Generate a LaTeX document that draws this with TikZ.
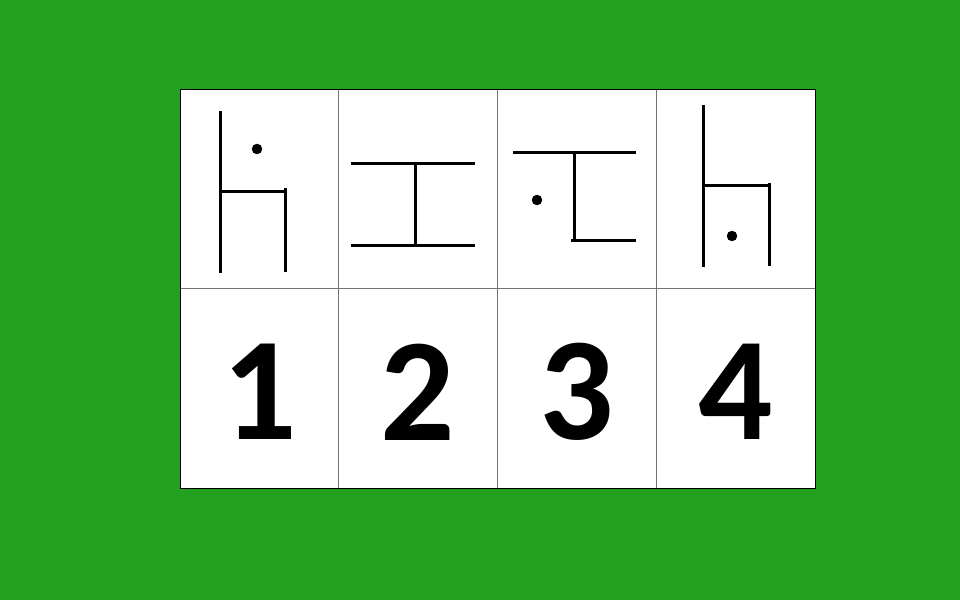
\documentclass[tikz,border=0pt]{standalone}
\usepackage{fontspec}
\setmainfont{Carlito}
\usepackage{tikz}
\usetikzlibrary{calc}
\usepackage{xcolor}
\definecolor{boardgreen}{RGB}{36,160,32}
\definecolor{gridgray}{rgb}{0.45,0.45,0.45}
\tikzset{
  cell/.style={draw=gridgray, line width=0.8pt, fill=white,
    minimum width=158.75pt, minimum height=199.5pt,
    inner sep=0pt, outer sep=0pt},
  digit/.style={font=\fontsize{147}{150}\selectfont\bfseries},
  glyph/.style={black, line width=3pt},
  spot/.style={black, fill=black}
}

\begin{document}
\begin{tikzpicture}[x=1pt,y=-1pt]

%%%%%%%%%%%%%%%%%%%%%%%%%%%%%%%%%%%%%%%%%%%%%%%%%%%%%%%%%%%%%% Setup
\fill[boardgreen] (0,0) rectangle (960,600);
\useasboundingbox (0,0) rectangle (960,600);
\coordinate (C) at (180,89);

%%%%%%%%%%%%%%%%%%%%%%%%%%%%%%%%%%%%%%%%%%%%%%%%%%%%%%%%%%%%%% Cells
\foreach \i in {1,...,4}{
  \node[cell] (t\i) at ($(C)+(158.75*\i-79.375, 99.75)$) {};
  \node[cell] (b\i) at ($(C)+(158.75*\i-79.375, 299.25)$) {};
  \node[digit] (d\i) at ($(b\i)+(0,4)$) {\i};
}
\draw[black, line width=0.8pt] (C) rectangle ($(C)+(635,399)$);

%%%%%%%%%%%%%%%%%%%%%%%%%%%%%%%%%%%%%%%%%%%%%%%%%%%%%%%%%%%%%% Glyph-1
\draw[glyph] ($(C)+(40, 22)$) -- ($(C)+(40, 184)$);
\draw[glyph] ($(C)+(40, 102)$) -- ($(C)+(106, 102)$);
\draw[glyph] ($(C)+(105, 99)$) -- ($(C)+(105, 183)$);
\draw[spot] ($(C)+(77, 60)$) circle (5pt);

%%%%%%%%%%%%%%%%%%%%%%%%%%%%%%%%%%%%%%%%%%%%%%%%%%%%%%%%%%%%%% Glyph-2
\draw[glyph] ($(C)+(171, 74)$) -- ($(C)+(295, 74)$);
\draw[glyph] ($(C)+(171, 156)$) -- ($(C)+(295, 156)$);
\draw[glyph] ($(C)+(235, 74)$) -- ($(C)+(235, 156)$);

%%%%%%%%%%%%%%%%%%%%%%%%%%%%%%%%%%%%%%%%%%%%%%%%%%%%%%%%%%%%%% Glyph-3
\draw[glyph] ($(C)+(333, 63)$) -- ($(C)+(456, 63)$);
\draw[glyph] ($(C)+(394, 63)$) -- ($(C)+(394, 151)$);
\draw[glyph] ($(C)+(391, 151)$) -- ($(C)+(456, 151)$);
\draw[spot] ($(C)+(357, 111)$) circle (5pt);

%%%%%%%%%%%%%%%%%%%%%%%%%%%%%%%%%%%%%%%%%%%%%%%%%%%%%%%%%%%%%% Glyph-4
\draw[glyph] ($(C)+(523, 16)$) -- ($(C)+(523, 178)$);
\draw[glyph] ($(C)+(523, 96)$) -- ($(C)+(590, 96)$);
\draw[glyph] ($(C)+(589, 94)$) -- ($(C)+(589, 177)$);
\draw[spot] ($(C)+(552, 147)$) circle (5pt);

\end{tikzpicture}
\end{document}
